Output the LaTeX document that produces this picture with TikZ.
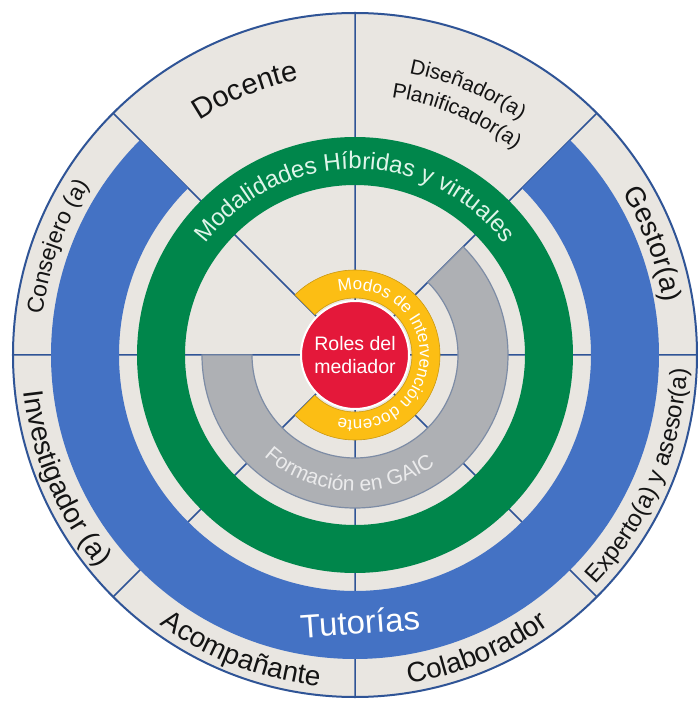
\documentclass[tikz,border=0pt]{standalone}
\usepackage{fontspec}
\setmainfont{Liberation Sans}
\usetikzlibrary{decorations.text}
\definecolor{beige}{RGB}{233,230,225}
\definecolor{navy}{RGB}{47,84,150}
\definecolor{tutblue}{RGB}{68,114,196}
\definecolor{modgreen}{RGB}{0,134,75}
\definecolor{gaicgray}{RGB}{174,176,180}
\definecolor{gaicedge}{RGB}{125,140,165}
\definecolor{modyellow}{RGB}{252,190,20}
\definecolor{rolred}{RGB}{228,24,58}
\definecolor{mint}{RGB}{222,245,233}
\definecolor{label}{RGB}{20,20,20}
\tikzset{
  divider/.style={draw=navy, line width=1.5pt},
  arctext/.style={decorate, decoration={text along path, text align=center, text color=#1}}
}
\begin{document}
\begin{tikzpicture}[x=1pt, y=1pt]
\path[use as bounding box, fill=white] (-355,-346) rectangle (343,355);
\filldraw[fill=beige, draw=navy, line width=2pt] (0,0) circle (342);
\draw[divider] (0:342) -- (180:342) (45:342) -- (225:342) (90:342) -- (270:342) (135:342) -- (315:342);
\fill[tutblue] (135:304) arc[start angle=135, end angle=405, radius=304] -- (45:236) arc[start angle=45, end angle=-225, radius=236] -- cycle;
\fill[modgreen, even odd rule] (0,0) circle (218) (0,0) circle (170);
\filldraw[fill=gaicgray, draw=gaicedge, line width=1.2pt] (180:153) arc[start angle=180, end angle=405, radius=153] -- (45:103) arc[start angle=45, end angle=-180, radius=103] -- cycle;
\filldraw[fill=modyellow, draw=modyellow!80!black, line width=0.6pt] (-135:85) arc[start angle=-135, end angle=135, radius=85] -- (135:57) arc[start angle=135, end angle=-135, radius=57] -- cycle;
\node[circle, fill=rolred, draw=white, line width=2pt, minimum size=108pt, inner sep=0pt, text=white, align=center, font=\fontsize{19.5}{23}\selectfont] (roles) at (0,0) {Roles del\\mediador};
\node[text=white, font=\fontsize{33}{33}\selectfont, rotate=4] (tutorias) at (5,-267) {Tutorías};
\path[arctext=label, decoration={text={|\fontsize{29}{29}\selectfont|Docente}}] (172.5:281) arc[start angle=172.5, end angle=52.5, radius=281];
\path[arctext=label, decoration={text={|\fontsize{21}{21}\selectfont|Diseñador(a)}}] (127:287) arc[start angle=127, end angle=7, radius=287];
\path[arctext=label, decoration={text={|\fontsize{21}{21}\selectfont|Planificador(a)}}] (127:260) arc[start angle=127, end angle=7, radius=260];
\path[arctext=label, decoration={text={|\fontsize{28}{28}\selectfont|Gestor(a)}}] (70.5:313) arc[start angle=70.5, end angle=-29.5, radius=313];
\path[arctext=label, decoration={text={|\fontsize{23}{23}\selectfont|Consejero (a)}}] (210:315) arc[start angle=210, end angle=110, radius=315];
\path[arctext=label, decoration={text={|\fontsize{28}{28}\selectfont|Investigador (a)}}] (153:333) arc[start angle=153, end angle=253, radius=333];
\path[arctext=label, decoration={text={|\fontsize{28}{28}\selectfont|Acompañante}}] (199:333) arc[start angle=199, end angle=299, radius=333];
\path[arctext=label, decoration={text={|\fontsize{28}{28}\selectfont|Colaborador}}] (242.5:333) arc[start angle=242.5, end angle=342.5, radius=333];
\path[arctext=label, decoration={text={|\fontsize{24}{24}\selectfont|Experto(a) y asesor(a)}}] (-83:332) arc[start angle=-83, end angle=37, radius=332];
\path[arctext=mint, decoration={text={|\fontsize{24}{24}\selectfont|Modalidades Híbridas y virtuales}}] (170:186) arc[start angle=170, end angle=10, radius=186];
\path[arctext=gaicgray!25!white, decoration={text={|\fontsize{21}{21}\selectfont|Formación en GAIC}}] (177:136) arc[start angle=177, end angle=357, radius=136];
\path[arctext=white, decoration={text={|\fontsize{17}{17}\selectfont|Modos de Intervención docente}}] (180:65) arc[start angle=180, end angle=-180, radius=65];
\end{tikzpicture}
\end{document}
